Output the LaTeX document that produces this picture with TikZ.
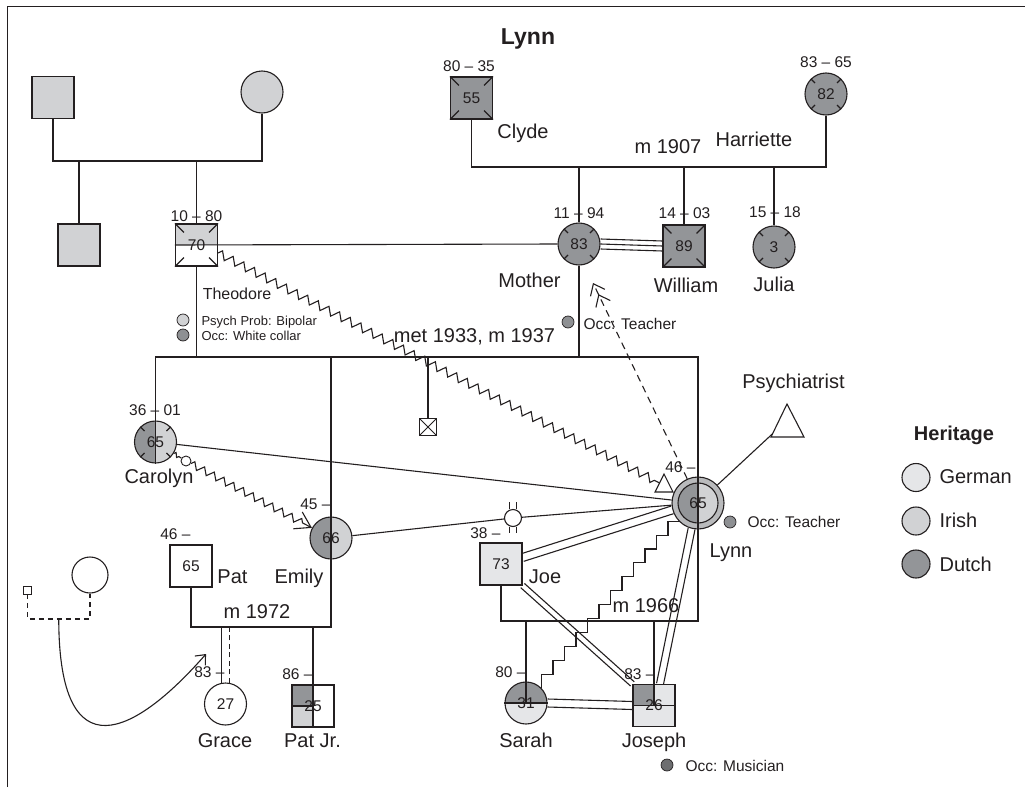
\documentclass[tikz,border=0pt]{standalone}
\usepackage{fontspec}
\setmainfont{Liberation Sans}
\usetikzlibrary{decorations.pathmorphing,arrows.meta,calc}
\definecolor{ink}{HTML}{231F20}
\definecolor{german}{HTML}{E5E6E8}
\definecolor{irish}{HTML}{D1D2D4}
\definecolor{dutch}{HTML}{939598}
\definecolor{ringc}{HTML}{B9BABC}
\definecolor{occdot}{HTML}{8E9093}
\definecolor{musdot}{HTML}{6D6E70}
\newcommand\gnName{\fontsize{20}{24}\selectfont}
\newcommand\gnNum{\fontsize{15.5}{18}\selectfont}
\newcommand\gnSmall{\fontsize{13}{15}\selectfont}
\newcommand\gnTitle{\fontsize{23}{27}\selectfont\bfseries}
\newcommand\sqtk[1]{\draw (#1.north west) -- ++(9,9) (#1.north east) -- ++(-9,9) (#1.south west) -- ++(9,-9) (#1.south east) -- ++(-9,-9);}
\newcommand\citk[1]{\foreach \a in {45,135,225,315}{\draw (#1.\a) -- ($(#1.\a)!6pt!(#1.center)$);}}
\newcommand\dbline[3]{\draw ($(#1)!#3!90:(#2)$) -- ($(#2)!#3!-90:(#1)$); \draw ($(#1)!#3!-90:(#2)$) -- ($(#2)!#3!90:(#1)$);}
\begin{document}
\begin{tikzpicture}[x=1pt,y=-1pt, line width=1.1pt, color=ink,
  sq/.style={draw, rectangle, minimum size=42pt, inner sep=0pt, font=\gnNum},
  ci/.style={draw, circle, minimum size=42pt, inner sep=0pt, font=\gnNum},
  nm/.style={font=\gnName, inner sep=0pt, anchor=base},
  yr/.style={font=\gnNum, inner sep=0pt, anchor=base},
  yl/.style={font=\gnNum, inner sep=0pt, anchor=base east},
  sm/.style={font=\gnSmall, inner sep=0pt, anchor=base west},
  ocl/.style={font=\gnNum, inner sep=0pt, anchor=base west},
  dotn/.style={draw, circle, minimum size=12pt, inner sep=0pt, line width=0.7pt},
  lhalf/.style={path picture={\fill[#1] (path picture bounding box.north west) rectangle (path picture bounding box.south);}},
  thalf/.style={path picture={\fill[#1] (path picture bounding box.north west) rectangle (path picture bounding box.east);}},
  tlq/.style={path picture={\fill[#1] (path picture bounding box.north west) rectangle (path picture bounding box.center);}},
  zz/.style={decorate, decoration={zigzag, segment length=12pt, amplitude=4pt}}
]
\useasboundingbox (0,0) rectangle (1025,787);
\draw[line width=1pt] (7,787) -- (7,6) -- (1025,6);

% ---------- nodes ----------
\node[sq, fill=irish] (gpf) at (53,97.5) {};
\node[ci, fill=irish] (gpm) at (262,92) {};
\node[sq, fill=irish] (unc) at (79,245) {};
\node[sq, fill=white, thalf=irish] (theo) at (196.5,245) {70};
\node[sq, fill=dutch] (clyde) at (471.5,98) {55};
\node[ci, fill=dutch] (harr) at (826,94) {82};
\node[ci, fill=dutch] (mother) at (579,244) {83};
\node[sq, fill=dutch] (will) at (684,246) {89};
\node[ci, fill=dutch] (julia) at (774,247) {3};
\node[ci, fill=irish, lhalf=dutch] (carol) at (155.5,442) {65};
\node[ci, fill=irish, lhalf=dutch] (emily) at (331,538) {66};
\node[draw, circle, minimum size=52pt, inner sep=0pt, fill=ringc] (lynn) at (698,503) {};
\node[ci, minimum size=40pt, fill=irish, lhalf=dutch] (lynnin) at (698,503) {65};
\node[draw, rectangle, minimum size=17pt, inner sep=0pt, fill=white,
  path picture={\draw[line width=0.9pt] (path picture bounding box.north west) -- (path picture bounding box.south east) (path picture bounding box.north east) -- (path picture bounding box.south west);}] (unk) at (428,427) {};
\node[sq, fill=white] (pat) at (191,566) {65};
\node[ci, fill=white] (grace) at (225.5,704) {27};
\node[sq, fill=white, path picture={\fill[dutch] (path picture bounding box.north west) rectangle (path picture bounding box.center); \fill[irish] (path picture bounding box.west) rectangle (path picture bounding box.south);}] (patjr) at (313,706) {25};
\node[sq, fill=german] (joe) at (501,564) {73};
\node[ci, fill=german, thalf=dutch] (sarah) at (526,703) {31};
\node[sq, fill=german, tlq=dutch] (joseph) at (654,705.5) {26};
\node[draw, circle, minimum size=17pt, inner sep=0pt, fill=white] (sc) at (513,518) {};
\node[draw, circle, minimum size=10pt, inner sep=0pt, line width=0.9pt] (cs) at (186,461) {};
\node[draw, rectangle, minimum size=8pt, inner sep=0pt, line width=0.9pt] (ss) at (27.5,590) {};
\node[draw, circle, minimum size=36pt, inner sep=0pt] (lc) at (90,575) {};

% legend
\node[ci, minimum size=28pt, fill=german] (lgG) at (916,477.5) {};
\node[ci, minimum size=28pt, fill=irish] (lgI) at (916,521) {};
\node[ci, minimum size=28pt, fill=dutch] (lgD) at (916,564) {};
\node[nm, font=\gnName\bfseries] (lgT) at (954,440) {Heritage};
\node[nm, anchor=base west] (lgGt) at (939,483) {German};
\node[nm, anchor=base west] (lgIt) at (939,527) {Irish};
\node[nm, anchor=base west] (lgDt) at (939,571) {Dutch};

% coordinates of family lines
\coordinate (m0) at (0,161);
\coordinate (m1) at (0,167);
\coordinate (m2) at (0,357);
\coordinate (m3) at (0,627);
\coordinate (m4) at (0,621);
\coordinate (m5) at (0,619);

% ---------- family lines ----------
\draw (gpf.south) -- (gpf.south |- m0) -- (gpm.south |- m0) -- (gpm.south);
\draw (unc.north) -- (unc.north |- m0);
\draw (theo.north) -- (theo.north |- m0);
\draw (clyde.south) -- (clyde.south |- m1) -- (harr.south |- m1) -- (harr.south);
\draw (mother.north) -- (mother.north |- m1);
\draw (will.north) -- (will.north |- m1);
\draw (julia.north) -- (julia.north |- m1);
\foreach \o in {-5,0,5} \draw ([yshift=\o]mother.east) -- ([yshift=\o]will.west);
\draw (theo.west) -- (mother.west);
\draw (theo.south) -- (theo.south |- m2);
\draw (mother.south) -- (mother.south |- m2);
\draw (carol.south) -- (carol.center |- m2) -- (lynn.center |- m2) -- (lynn.center |- m4) -- (joe.south |- m4) -- (joe.south);
\draw (emily.center |- m2) -- (emily.center |- m3) -- (pat.south |- m3) -- (pat.south);
\draw (unk.north) -- (unk.north |- m2);
\draw (sarah.center) -- (sarah.center |- m4);
\draw (joseph.center) -- (joseph.center |- m4);
\draw (sarah.west) -- (sarah.east);
\draw (joseph.west) -- (joseph.east);
\draw (grace.100) -- (grace.100 |- m3);
\draw[dash pattern=on 5pt off 3.5pt] (grace.80) -- (grace.80 |- m3);
\draw (patjr.south) -- (patjr.south |- m3);
\draw (patjr.west) -- (patjr.center);

% ticks (deceased)
\sqtk{clyde} \sqtk{will} \sqtk{theo}
\citk{mother} \citk{harr} \citk{julia} \citk{carol}

% ---------- relationship lines ----------
\draw (carol) -- (lynn);
\draw (emily) -- (sc) -- (lynn);
\foreach \dx in {-3.5,3.5} {\draw[line width=0.9pt] ([xshift=\dx]sc.north) -- ++(0,-7); \draw[line width=0.9pt] ([xshift=\dx]sc.south) -- ++(0,6);}
\coordinate (jl1) at ([yshift=6.5]joe.east);
\dbline{jl1}{lynn.195}{4pt}
\dbline{joe.south east}{joseph.north west}{2.8pt}
\coordinate (jsp) at ([xshift=6]joseph.north);
\dbline{lynn.256}{jsp}{3.5pt}
\dbline{sarah.east}{joseph.west}{4pt}
\draw (sarah.44) \foreach \i in {1,...,12} { -- ++(0,-13.9) -- ++(11.5,0) };

% small triangle and zigzag from Theodore
\coordinate (tA) at (664,474);
\coordinate (tB) at (655,492);
\coordinate (tC) at (673,492);
\draw[fill=white] (tA) -- (tC) -- (tB) -- cycle;
\coordinate (ztri) at ($(tA)!0.5!(tB)$);
\draw[zz] ([yshift=-8]theo.east) -- (ztri);

% Carolyn -> Emily
\draw[decorate, decoration={zigzag, segment length=6pt, amplitude=2pt}] (carol) -- (cs);
\draw[decorate, decoration={zigzag, segment length=11pt, amplitude=3.5pt, post length=8pt}, -{Straight Barb[length=15pt,width=19pt]}] (cs) -- (emily);

% Lynn -> Mother dashed
\coordinate (mtip) at (593,283);
\draw[dash pattern=on 7pt off 5pt, -{Straight Barb[length=10pt,width=16pt,sep=1pt] Straight Barb[length=10pt,width=16pt]}] (lynn.114) -- (mtip);

% Psychiatrist
\coordinate (pA) at (787,404);
\coordinate (pB) at (804,437);
\coordinate (pC) at (771,437);
\draw (pA) -- (pB) -- (pC) -- cycle;
\draw (lynn) -- ($(pC)!0.1!(pA)$);

% left family (dashed) with curved arrow
\draw[dash pattern=on 5pt off 4pt] (ss.south) -- (ss.south |- m5) -- (lc.south |- m5) -- (lc.south);
\coordinate (lmid) at ($(ss.south |- m5)!0.5!(lc.south |- m5)$);
\coordinate (aend) at (206,654);
\draw[-{Straight Barb[length=8pt,width=14pt]}] (lmid) .. controls (59,775) and (135,735) .. (aend);

% dots
\node[dotn, fill=irish] (d1) at (183,320) {};
\node[dotn, fill=occdot] (d2) at (183,335) {};
\node[dotn, fill=occdot] (d3) at (568,322) {};
\node[dotn, fill=occdot] (d4) at (730,522) {};
\node[dotn, fill=musdot] (d5) at (667,765) {};

% ---------- texts ----------
\node[nm, font=\gnTitle] (title) at (528,44) {Lynn};
\node[yr] (y1) at (469,71) {80 -- 35};
\node[yr] (y2) at (826,67) {83 -- 65};
\node[yr] (y3) at (579,218) {11 -- 94};
\node[yr] (y4) at (684.5,218) {14 -- 03};
\node[yr] (y5) at (775,217) {15 -- 18};
\node[yr] (y6) at (196.5,221) {10 -- 80};
\node[yr] (y7) at (155,415) {36 -- 01};
\node[yl] (y8) at (331,509) {45 --};
\node[yl] (y9) at (696,472) {46 --};
\node[yl] (y10) at (191,539) {46 --};
\node[yl] (y11) at (501,538) {38 --};
\node[yl] (y12) at (225,677) {83 --};
\node[yl] (y13) at (313,679) {86 --};
\node[yl] (y14) at (526,677) {80 --};
\node[yl] (y15) at (655,679) {83 --};

\node[nm] (n1) at (523,138) {Clyde};
\node[nm] (n2) at (754,146) {Harriette};
\node[nm] (n3) at (668,153) {m 1907};
\node[nm] (n4) at (529.5,287) {Mother};
\node[nm] (n5) at (686,292) {William};
\node[nm] (n6) at (774,291) {Julia};
\node[nm, font=\fontsize{16}{19}\selectfont] (n7) at (237,299) {Theodore};
\node[nm] (n8) at (474.5,342) {met 1933, m 1937};
\node[nm] (n9) at (793.5,388) {Psychiatrist};
\node[nm] (n10) at (159,483) {Carolyn};
\node[nm] (n11) at (299,583) {Emily};
\node[nm] (n12) at (232.5,583) {Pat};
\node[nm] (n13) at (257,618) {m 1972};
\node[nm] (n14) at (225,747) {Grace};
\node[nm] (n15) at (312.5,747) {Pat Jr.};
\node[nm] (n16) at (545,583) {Joe};
\node[nm] (n17) at (646,612) {m 1966};
\node[nm] (n18) at (526,747) {Sarah};
\node[nm] (n19) at (654,747) {Joseph};
\node[nm] (n20) at (731,557) {Lynn};

\node[sm] (s1) at (201,325) {Psych Prob: Bipolar};
\node[sm] (s2) at (201,340) {Occ: White collar};
\node[ocl] (o1) at (583,329) {Occ: Teacher};
\node[ocl] (o2) at (747,527) {Occ: Teacher};
\node[ocl] (o3) at (685,771) {Occ: Musician};
\end{tikzpicture}
\end{document}
